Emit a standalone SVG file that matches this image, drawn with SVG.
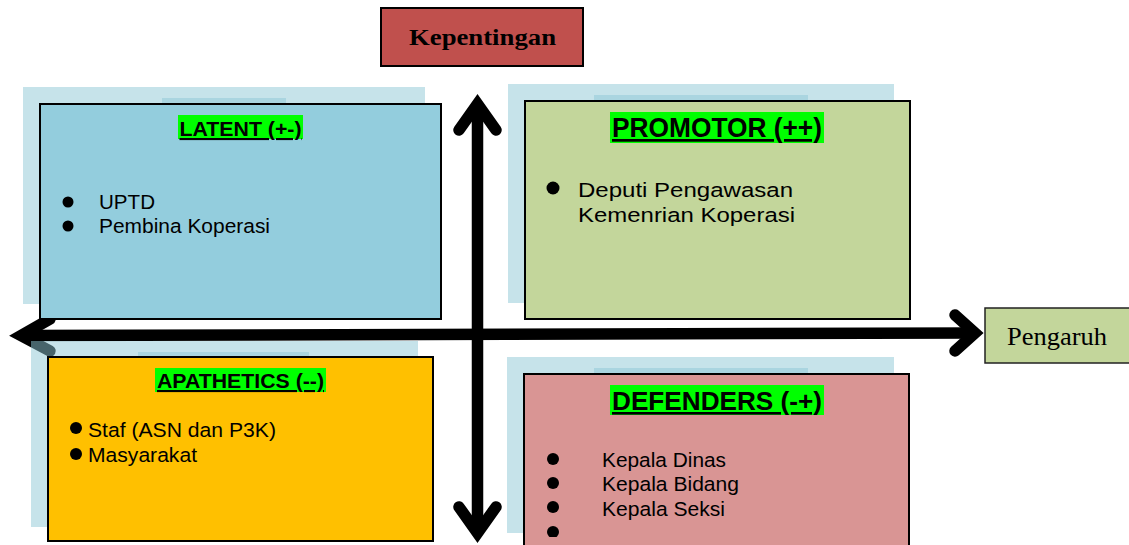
<svg xmlns="http://www.w3.org/2000/svg" width="1129" height="545" viewBox="0 0 1129 545">
  <defs>
    <style>
      .arrow { fill: none; stroke: #000; stroke-width: 11.5; stroke-linecap: round; stroke-linejoin: miter; stroke-miterlimit: 6; }
      .shaft { fill: none; stroke: #000; stroke-width: 11.5; stroke-linecap: butt; }
      .shadow { fill: #8DC7D5; fill-opacity: 0.5; }
      .box { stroke: #000; stroke-width: 2; }
      .hl { fill: #00FF00; }
      .title { font-family: "Liberation Sans", Arial, sans-serif; font-weight: bold; fill: #000; text-anchor: middle; text-decoration: underline; }
      .item { font-family: "Liberation Sans", Arial, sans-serif; font-size: 20.5px; fill: #000; }
      .axis { font-family: "Liberation Serif", "Times New Roman", serif; fill: #000; }
    </style>
    <clipPath id="defendersClip">
      <rect x="524" y="374" width="386" height="163"/>
    </clipPath>
  </defs>

  <rect width="1129" height="545" fill="#fff"/>

  <!-- axes: influence (horizontal) and interest (vertical) -->
  <g id="connectors">
    <path class="shaft" d="M21 335.5 L975 333"/>
    <path class="arrow" d="M50 319 L21 335.5 L50 351"/>
    <path class="arrow" d="M955 315 L975 333 L955 351"/>
    <path class="shaft" d="M477.5 104 L477.5 533"/>
    <path class="arrow" d="M459 130 L477.5 104 L496 130"/>
    <path class="arrow" d="M459 507 L477.5 533 L496 507"/>
  </g>

  <!-- axis labels -->
  <g id="kepentingan">
    <rect x="381" y="8" width="202" height="58" fill="#C0504D" stroke="#000" stroke-width="2"/>
    <text class="axis" x="482.5" y="45" font-size="24" font-weight="bold" text-anchor="middle" textLength="147" lengthAdjust="spacingAndGlyphs">Kepentingan</text>
  </g>

  <g id="pengaruh">
    <rect x="985" y="308" width="150" height="55" fill="#C3D69B" stroke="#222" stroke-width="1.5"/>
    <text class="axis" x="1007" y="345" font-size="26" textLength="100" lengthAdjust="spacingAndGlyphs">Pengaruh</text>
  </g>

  <!-- quadrant: latent -->
  <g id="latent">
    <rect class="shadow" x="23" y="87" width="402" height="217"/>
    <rect class="shadow" x="162" y="98" width="124" height="10"/>
    <rect class="box" x="40" y="104" width="401" height="215" fill="#93CDDD"/>
    <rect class="hl" x="178" y="115" width="125" height="24"/>
    <text class="title" x="240.5" y="136" font-size="21" textLength="122" lengthAdjust="spacingAndGlyphs">LATENT (+-)</text>
    <circle cx="68" cy="202" r="5.5"/>
    <circle cx="68" cy="226" r="5.5"/>
    <text class="item" x="99" y="209" textLength="56" lengthAdjust="spacingAndGlyphs">UPTD</text>
    <text class="item" x="99" y="233" textLength="171" lengthAdjust="spacingAndGlyphs">Pembina Koperasi</text>
  </g>

  <!-- quadrant: promotor -->
  <g id="promotor">
    <rect class="shadow" x="508" y="84" width="386" height="219"/>
    <rect class="shadow" x="594" y="95" width="214" height="10"/>
    <rect class="box" x="525" y="101" width="385" height="218" fill="#C3D69B"/>
    <rect class="hl" x="610" y="112" width="214" height="31"/>
    <text class="title" x="717" y="137" font-size="27" textLength="210" lengthAdjust="spacingAndGlyphs">PROMOTOR (++)</text>
    <circle cx="553" cy="188" r="6.5"/>
    <text class="item" x="578" y="197" font-size="22.5" textLength="215" lengthAdjust="spacingAndGlyphs">Deputi Pengawasan</text>
    <text class="item" x="578" y="222" font-size="22.5" textLength="217" lengthAdjust="spacingAndGlyphs">Kemenrian Koperasi</text>
  </g>

  <!-- quadrant: apathetics -->
  <g id="apathetics">
    <rect class="shadow" x="31" y="341" width="387" height="186"/>
    <rect class="shadow" x="138" y="352" width="171" height="10"/>
    <rect class="box" x="48" y="357" width="385" height="184" fill="#FFC000"/>
    <rect class="hl" x="155" y="368" width="171" height="24"/>
    <text class="title" x="240.5" y="388" font-size="21" textLength="167" lengthAdjust="spacingAndGlyphs">APATHETICS (--)</text>
    <circle cx="76" cy="428" r="6"/>
    <circle cx="76" cy="454" r="6"/>
    <text class="item" x="88" y="437" textLength="188" lengthAdjust="spacingAndGlyphs">Staf (ASN dan P3K)</text>
    <text class="item" x="88" y="462" textLength="109" lengthAdjust="spacingAndGlyphs">Masyarakat</text>
  </g>

  <!-- quadrant: defenders -->
  <g id="defenders">
    <rect class="shadow" x="507" y="357" width="387" height="176"/>
    <rect class="shadow" x="594" y="368" width="214" height="10"/>
    <rect class="box" x="524" y="374" width="385" height="180" fill="#D99594"/>
    <rect class="hl" x="610" y="385" width="214" height="30"/>
    <text class="title" x="717" y="410" font-size="26" textLength="210" lengthAdjust="spacingAndGlyphs">DEFENDERS (-+)</text>
    <g clip-path="url(#defendersClip)">
      <circle cx="553" cy="459" r="6"/>
      <circle cx="553" cy="483" r="6"/>
      <circle cx="553" cy="507" r="6"/>
      <circle cx="553" cy="532" r="6"/>
    </g>
    <text class="item" x="602" y="467" textLength="124" lengthAdjust="spacingAndGlyphs">Kepala Dinas</text>
    <text class="item" x="602" y="491" textLength="137" lengthAdjust="spacingAndGlyphs">Kepala Bidang</text>
    <text class="item" x="602" y="516" textLength="123" lengthAdjust="spacingAndGlyphs">Kepala Seksi</text>
  </g>
</svg>
